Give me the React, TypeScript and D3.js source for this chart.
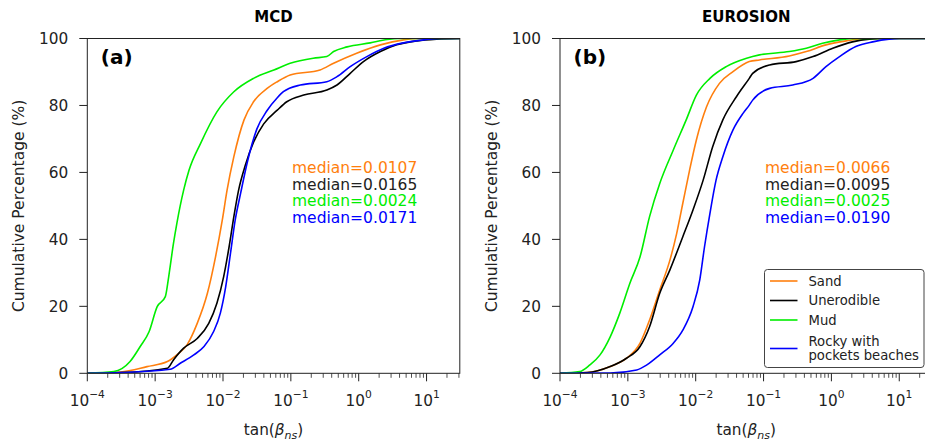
import React from "react";
import * as d3 from "d3";

// ---- data (x as log10(tan β), y as cumulative %) ----
const seriesNames = ["Sand", "Unerodible", "Mud", "Rocky with pockets beaches"];
const seriesColors = ["#ff7f0e", "#000000", "#00ee00", "#0000ff"];

const mcdSandLog = [-4, -3.51, -3.12, -2.82, -2.68, -2.53, -2.38, -2.23, -2.11, -2.01, -1.94, -1.84, -1.69, -1.55, -1.35, -1.2, -1.01, -0.57, -0.37, -0.03, 0.32, 0.66, 0.9, 1.49];
const mcdSandPct = [0, 0.4, 2, 3.5, 5.5, 8.5, 14.9, 23.9, 34.8, 45.8, 54.7, 64.7, 75.7, 81.1, 85.1, 87.1, 89.1, 90.6, 92.6, 95.6, 98.1, 99.6, 100, 100];
const mcdUnerLog = [-4, -3.5, -2.82, -2.73, -2.58, -2.38, -2.21, -2.09, -1.99, -1.91, -1.84, -1.77, -1.67, -1.55, -1.4, -1.2, -1.06, -0.81, -0.47, -0.32, -0.125, 0.07, 0.32, 0.56, 0.86, 1.15, 1.49];
const mcdUnerPct = [0, 0.2, 1.5, 4, 7.5, 10.4, 14.9, 20.9, 28.9, 37.8, 46.8, 54.7, 62.2, 69, 74.5, 78.6, 81.1, 83.1, 84.6, 86.1, 89.6, 93.1, 96.1, 98.1, 99.3, 99.8, 100];
const mcdMudLog = [-4, -3.61, -3.37, -3.22, -3.09, -2.97, -2.85, -2.8, -2.73, -2.68, -2.58, -2.5, -2.33, -2.09, -1.84, -1.55, -1.25, -1.01, -0.67, -0.47, -0.37, -0.17, 0.17, 0.42, 0.6, 1.49];
const mcdMudPct = [0, 0.5, 3.5, 8, 12.4, 19.9, 22.9, 28.9, 38.8, 44.8, 54.7, 60.7, 68.7, 78.1, 84.1, 88.1, 90.6, 92.6, 94.1, 94.6, 96.1, 97.5, 98.7, 99.7, 100, 100];
const mcdRockyLog = [-4, -3.5, -2.78, -2.63, -2.43, -2.28, -2.14, -2.04, -1.96, -1.89, -1.82, -1.74, -1.64, -1.5, -1.35, -1.2, -1.11, -0.86, -0.47, -0.32, -0.125, 0.12, 0.37, 0.66, 0.96, 1.2, 1.49];
const mcdRockyPct = [0, 0.2, 1.2, 3, 5.5, 8, 12.4, 17.9, 25.9, 35.8, 45.8, 53.8, 63.2, 73, 78.5, 82.3, 84.1, 86.1, 87.1, 88.6, 91.6, 94.6, 97.1, 98.7, 99.6, 100, 100];

const euSandLog = [-4, -3.6, -3.26, -3.02, -2.82, -2.68, -2.53, -2.38, -2.28, -2.19, -2.09, -1.99, -1.84, -1.65, -1.45, -1.21, -1.06, -0.62, -0.37, -0.08, 0.22, 0.5, 1.49];
const euSandPct = [0, 0.2, 2, 4.5, 9, 15.9, 24.9, 33.8, 41.8, 50.8, 60.7, 69.7, 79.6, 86.6, 90.1, 93.1, 93.6, 94.8, 96.1, 98.1, 99.3, 100, 100];
const euUnerLog = [-4, -3.6, -3.26, -3.02, -2.82, -2.68, -2.53, -2.38, -2.19, -2.04, -1.89, -1.75, -1.6, -1.4, -1.21, -1.16, -0.91, -0.52, -0.27, 0.02, 0.31, 0.56, 0.8, 1.49];
const euUnerPct = [0, 0.2, 2, 4.5, 8, 13.9, 23.9, 30.9, 40.8, 48.8, 57.7, 67.7, 75.7, 82.6, 88.1, 89.6, 92.1, 93.1, 94.6, 97.1, 99.0, 99.8, 100, 100];
const euMudLog = [-4, -3.71, -3.56, -3.41, -3.26, -3.12, -2.97, -2.82, -2.68, -2.53, -2.33, -2.14, -1.99, -1.79, -1.55, -1.25, -1.06, -0.62, -0.37, -0.13, 0.12, 0.4, 1.49];
const euMudPct = [0, 0.5, 2.5, 5.5, 10.9, 17.9, 26.9, 34.8, 46.8, 56.7, 66.7, 75.7, 83.1, 88.1, 91.6, 94.1, 95.1, 96.1, 97.1, 98.6, 99.6, 100, 100];
const euRockyLog = [-4, -3.26, -2.87, -2.72, -2.53, -2.33, -2.19, -2.04, -1.94, -1.87, -1.79, -1.7, -1.6, -1.45, -1.3, -1.21, -1.16, -0.91, -0.57, -0.27, -0.08, 0.12, 0.36, 0.61, 0.85, 1.0, 1.49];
const euRockyPct = [0, 0.1, 1, 2.5, 5.5, 9, 12.9, 19.9, 27.9, 37.8, 47.8, 57.7, 64.7, 72.7, 77.7, 80.1, 81.6, 85.1, 86.1, 88.1, 91.6, 94.6, 97.6, 99.0, 99.8, 100, 100];

const mcdMedians = ["0.0107", "0.0165", "0.0024", "0.0171"];
const euMedians = ["0.0066", "0.0095", "0.0025", "0.0190"];

const yTicks = [0, 20, 40, 60, 80, 100];
const xMajorExp = [-4, -3, -2, -1, 0, 1];

const FONT = "DejaVu Sans, Verdana, sans-serif";

const panels = [
  {
    id: "a", title: "MCD", tag: "(a)", left: 87.3, medians: mcdMedians, medX: 292, legend: false,
    series: [[mcdSandLog, mcdSandPct], [mcdUnerLog, mcdUnerPct], [mcdMudLog, mcdMudPct], [mcdRockyLog, mcdRockyPct]],
  },
  {
    id: "b", title: "EUROSION", tag: "(b)", left: 560, medians: euMedians, medX: 765, legend: true,
    series: [[euSandLog, euSandPct], [euUnerLog, euUnerPct], [euMudLog, euMudPct], [euRockyLog, euRockyPct]],
  },
];

const TOP = 38.5;
const BOTTOM = 373.3;
const PW = 372.5;
const XMAX = Math.pow(10, 1.49);

function Panel({ p }: { p: any }) {
  const x = d3.scaleLog().domain([1e-4, XMAX]).range([p.left, p.left + PW]);
  const y = d3.scaleLinear().domain([0, 100]).range([BOTTOM, TOP]);
  const line = d3
    .line<[number, number]>()
    .x((d) => x(Math.pow(10, d[0])))
    .y((d) => y(d[1]))
    .curve(d3.curveMonotoneX);
  const minor: number[] = [];
  for (let e = -4; e <= 1; e++) {
    for (let m = 2; m <= 9; m++) {
      const v = m * Math.pow(10, e);
      if (v <= XMAX) minor.push(v);
    }
  }
  const cx = p.left + PW / 2;
  const clipId = "clip-" + p.id;
  return (
    <g>
      <defs>
        <clipPath id={clipId}>
          <rect x={p.left} y={TOP} width={PW} height={BOTTOM - TOP} />
        </clipPath>
      </defs>
      <g clipPath={`url(#${clipId})`}>
        {p.series.map((s: number[][], i: number) => {
          const pts = s[0].map((lx: number, k: number) => [lx, s[1][k]] as [number, number]);
          return (
            <path key={i} d={line(pts) || ""} fill="none" stroke={seriesColors[i]} strokeWidth={1.6} strokeLinejoin="round" />
          );
        })}
      </g>
      <rect x={p.left} y={TOP} width={PW} height={BOTTOM - TOP} fill="none" stroke="#222" strokeWidth={1} />
      {yTicks.map((t) => (
        <g key={t}>
          <line x1={p.left - 8} x2={p.left} y1={y(t)} y2={y(t)} stroke="#222" strokeWidth={1} />
          <text x={p.left - 19} y={y(t)} dy="0.36em" textAnchor="end" fontSize={15.3} fontFamily={FONT} fill="#222">
            {t}
          </text>
        </g>
      ))}
      {minor.map((v, i) => (
        <line key={i} x1={x(v)} x2={x(v)} y1={BOTTOM} y2={BOTTOM + 4.5} stroke="#222" strokeWidth={0.8} />
      ))}
      {xMajorExp.map((e) => {
        const v = Math.pow(10, e);
        const label = e < 0 ? "\u2212" + Math.abs(e) : String(e);
        return (
          <g key={e}>
            <line x1={x(v)} x2={x(v)} y1={BOTTOM} y2={BOTTOM + 8} stroke="#222" strokeWidth={1} />
            <text x={x(v)} y={406} textAnchor="middle" fontSize={15.3} fontFamily={FONT} fill="#222">
              10
              <tspan dy={-8} fontSize={10.7}>{label}</tspan>
            </text>
          </g>
        );
      })}
      <text x={cx} y={22} textAnchor="middle" fontSize={15} fontWeight="bold" fontFamily={FONT} fill="#000">
        {p.title}
      </text>
      <text x={p.left + 13.5} y={64} fontSize={20} fontWeight="bold" fontFamily={FONT} fill="#000">
        {p.tag}
      </text>
      <text x={cx} y={435} textAnchor="middle" fontSize={15.3} fontFamily={FONT} fill="#222">
        tan(
        <tspan fontStyle="italic">β</tspan>
        <tspan fontStyle="italic" fontSize={11} dy={3.5}>ns</tspan>
        <tspan dy={-3.5}>)</tspan>
      </text>
      <text
        transform={`translate(${p.left - 63},${(TOP + BOTTOM) / 2}) rotate(-90)`}
        textAnchor="middle"
        fontSize={15.5}
        fontFamily={FONT}
        fill="#222"
      >
        Cumulative Percentage (%)
      </text>
      {p.medians.map((m: string, i: number) => (
        <text key={i} x={p.medX} y={173 + i * 16.6} fontSize={15.5} fontFamily={FONT} fill={seriesColors[i] === "#000000" ? "#222" : seriesColors[i]}>
          {"median=" + m}
        </text>
      ))}
      {p.legend && <Legend />}
    </g>
  );
}

function Legend() {
  const bx = 764.5, by = 269.5, bw = 159.5, bh = 98;
  const rows = [281, 300.5, 320, 348.5];
  return (
    <g>
      <rect x={bx} y={by} width={bw} height={bh} rx={3} ry={3} fill="#fff" fillOpacity={0.85} stroke="#444" strokeWidth={1} />
      {seriesNames.map((n, i) => (
        <g key={n}>
          <line x1={770} x2={797.5} y1={rows[i]} y2={rows[i]} stroke={seriesColors[i]} strokeWidth={1.6} />
          {i < 3 ? (
            <text x={808.5} y={rows[i]} dy="0.36em" fontSize={13.2} fontFamily={FONT} fill="#222">
              {n}
            </text>
          ) : (
            <text x={808.5} y={rows[i]} fontSize={13.2} fontFamily={FONT} fill="#222">
              <tspan x={808.5} dy={-2.6}>Rocky with</tspan>
              <tspan x={808.5} dy={14.2}>pockets beaches</tspan>
            </text>
          )}
        </g>
      ))}
    </g>
  );
}

export default function App() {
  return (
    <svg
      width={925}
      height={444}
      viewBox="0 0 925 444"
      style={{ position: "absolute", left: 0, top: 0, display: "block", background: "#fff" }}
    >
      <rect x={0} y={0} width={925} height={444} fill="#fff" />
      {panels.map((p) => (
        <Panel key={p.id} p={p} />
      ))}
    </svg>
  );
}
